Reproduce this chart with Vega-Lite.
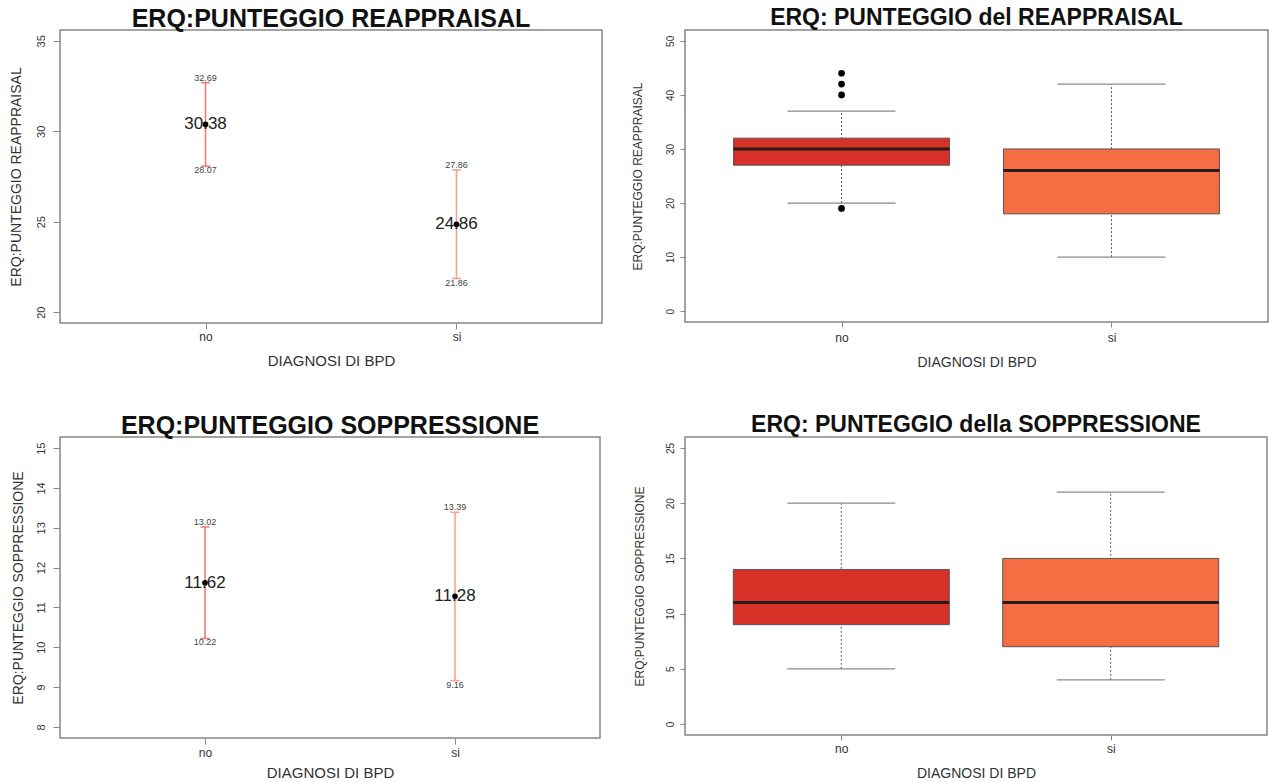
{
  "$schema": "https://vega.github.io/schema/vega-lite/v6.json",
  "background": "white",
  "padding": {"left": 8, "top": 6, "right": 0, "bottom": 0},
  "bounds": "flush",
  "columns": 2,
  "spacing": {"row": 114, "column": 83},
  "resolve": {"scale": {"color": "independent"}},
  "config": {
    "font": "Liberation Sans",
    "view": {"stroke": "#858585", "strokeWidth": 1.5},
    "axis": {"grid": false, "domain": false, "tickColor": "#888888", "labelColor": "#333333", "titleColor": "#333333", "titleFontWeight": "normal", "labelFont": "Liberation Sans", "titleFont": "Liberation Sans"},
    "title": {"fontWeight": "bold", "color": "#111111", "anchor": "middle", "baseline": "alphabetic", "font": "Liberation Sans"}
  },
  "concat": [
    {
      "width": 542, "height": 293,
      "title": {"text": "ERQ:PUNTEGGIO REAPPRAISAL", "fontSize": 25, "offset": -2},
      "data": {"values": [
        {"gruppo": "no", "media": 30.38, "inf": 28.07, "sup": 32.69},
        {"gruppo": "si", "media": 24.86, "inf": 21.86, "sup": 27.86}
      ]},
      "encoding": {
        "x": {"field": "gruppo", "type": "nominal", "title": "DIAGNOSI DI BPD",
          "scale": {"type": "point", "padding": 0.58},
          "axis": {"labelAngle": 0, "tickSize": 6, "labelPadding": 11, "labelBaseline": "alphabetic", "labelFontSize": 12, "titleFontSize": 15, "titleY": 42, "titleBaseline": "alphabetic"}}
      },
      "layer": [
        {"mark": {"type": "rule", "strokeWidth": 1.6},
          "encoding": {
            "y": {"field": "inf", "type": "quantitative", "title": "ERQ:PUNTEGGIO REAPPRAISAL",
              "scale": {"domain": [19.4, 35.6], "nice": false, "zero": false},
              "axis": {"values": [20, 25, 30, 35], "labelAngle": -90, "labelAlign": "center", "labelBaseline": "alphabetic", "tickSize": 7, "labelPadding": 9, "labelFontSize": 11, "titleFontSize": 14, "titleX": -40, "titleBaseline": "alphabetic"}},
            "y2": {"field": "sup"},
            "color": {"field": "gruppo", "type": "nominal", "scale": {"domain": ["no", "si"], "range": ["#EF7B7B", "#F7A38C"]}, "legend": null}}},
        {"mark": {"type": "tick", "size": 9, "thickness": 1.6, "opacity": 1},
          "encoding": {"y": {"field": "inf", "type": "quantitative", "title": "ERQ:PUNTEGGIO REAPPRAISAL"}, "color": {"field": "gruppo", "type": "nominal", "legend": null}}},
        {"mark": {"type": "tick", "size": 9, "thickness": 1.6, "opacity": 1},
          "encoding": {"y": {"field": "sup", "type": "quantitative", "title": "ERQ:PUNTEGGIO REAPPRAISAL"}, "color": {"field": "gruppo", "type": "nominal", "legend": null}}},
        {"mark": {"type": "text", "fontSize": 17, "color": "#222222"},
          "encoding": {"y": {"field": "media", "type": "quantitative", "title": "ERQ:PUNTEGGIO REAPPRAISAL"}, "text": {"field": "media", "type": "quantitative", "format": ".2f"}}},
        {"mark": {"type": "point", "filled": true, "color": "#000000", "size": 32, "opacity": 1},
          "encoding": {"y": {"field": "media", "type": "quantitative", "title": "ERQ:PUNTEGGIO REAPPRAISAL"}}},
        {"mark": {"type": "text", "fontSize": 9, "baseline": "bottom", "color": "#444444"},
          "encoding": {"y": {"field": "sup", "type": "quantitative", "title": "ERQ:PUNTEGGIO REAPPRAISAL"}, "text": {"field": "sup", "type": "quantitative", "format": ".2f"}}},
        {"mark": {"type": "text", "fontSize": 9, "baseline": "top", "color": "#444444"},
          "encoding": {"y": {"field": "inf", "type": "quantitative", "title": "ERQ:PUNTEGGIO REAPPRAISAL"}, "text": {"field": "inf", "type": "quantitative", "format": ".2f"}}}
      ]
    },
    {
      "width": 583, "height": 292,
      "title": {"text": "ERQ: PUNTEGGIO del REAPPRAISAL", "fontSize": 23, "offset": 0},
      "encoding": {
        "x": {"field": "gruppo", "type": "nominal", "title": "DIAGNOSI DI BPD",
          "scale": {"type": "point", "padding": 0.58, "domain": ["no", "si"]},
          "axis": {"labelAngle": 0, "tickSize": 5, "labelPadding": 14, "labelBaseline": "alphabetic", "labelFontSize": 12, "titleFontSize": 14, "titleY": 44, "titleBaseline": "alphabetic"}}
      },
      "layer": [
        {"data": {"name": "box_reappraisal", "values": [
          {"gruppo": "no", "inferiore": 20, "q1": 27, "mediana": 30, "q3": 32, "superiore": 37},
          {"gruppo": "si", "inferiore": 10, "q1": 18, "mediana": 26, "q3": 30, "superiore": 42}
        ]},
          "layer": [
            {"mark": {"type": "rule", "strokeDash": [2, 2], "strokeWidth": 1, "color": "#555555"},
              "encoding": {
                "y": {"field": "inferiore", "type": "quantitative", "title": "ERQ:PUNTEGGIO REAPPRAISAL",
                  "scale": {"domain": [-2, 52], "nice": false, "zero": false},
                  "axis": {"values": [0, 10, 20, 30, 40, 50], "labelAngle": -90, "labelAlign": "center", "labelBaseline": "alphabetic", "tickSize": 5, "labelPadding": 7, "labelFontSize": 10, "titleFontSize": 12, "titleX": -44, "titleBaseline": "alphabetic"}},
                "y2": {"field": "superiore"}}},
            {"mark": {"type": "tick", "size": 108, "thickness": 1.2, "color": "#8a8a8a", "opacity": 1},
              "encoding": {"y": {"field": "inferiore", "type": "quantitative", "title": "ERQ:PUNTEGGIO REAPPRAISAL"}}},
            {"mark": {"type": "tick", "size": 108, "thickness": 1.2, "color": "#8a8a8a", "opacity": 1},
              "encoding": {"y": {"field": "superiore", "type": "quantitative", "title": "ERQ:PUNTEGGIO REAPPRAISAL"}}},
            {"mark": {"type": "bar", "size": 216, "stroke": "#555555", "strokeWidth": 1, "opacity": 1},
              "encoding": {
                "y": {"field": "q1", "type": "quantitative", "title": "ERQ:PUNTEGGIO REAPPRAISAL"},
                "y2": {"field": "q3"},
                "color": {"field": "gruppo", "type": "nominal", "scale": {"domain": ["no", "si"], "range": ["#D73027", "#F46D43"]}, "legend": null}}},
            {"mark": {"type": "tick", "size": 216, "thickness": 3, "color": "#2a1a16", "opacity": 1},
              "encoding": {"y": {"field": "mediana", "type": "quantitative", "title": "ERQ:PUNTEGGIO REAPPRAISAL"}}}
          ]
        },
        {"data": {"name": "outlier_reappraisal", "values": [
          {"gruppo": "no", "valore": 19},
          {"gruppo": "no", "valore": 40},
          {"gruppo": "no", "valore": 42},
          {"gruppo": "no", "valore": 44}
        ]},
          "mark": {"type": "point", "filled": true, "color": "#000000", "size": 45, "opacity": 1},
          "encoding": {"y": {"field": "valore", "type": "quantitative", "title": "ERQ:PUNTEGGIO REAPPRAISAL"}}}
      ]
    },
    {
      "width": 540, "height": 301,
      "title": {"text": "ERQ:PUNTEGGIO SOPPRESSIONE", "fontSize": 25, "offset": -2},
      "data": {"values": [
        {"gruppo": "no", "media": 11.62, "inf": 10.22, "sup": 13.02},
        {"gruppo": "si", "media": 11.28, "inf": 9.16, "sup": 13.39}
      ]},
      "encoding": {
        "x": {"field": "gruppo", "type": "nominal", "title": "DIAGNOSI DI BPD",
          "scale": {"type": "point", "padding": 0.58},
          "axis": {"labelAngle": 0, "tickSize": 6, "labelPadding": 12, "labelBaseline": "alphabetic", "labelFontSize": 12, "titleFontSize": 15, "titleY": 39, "titleBaseline": "alphabetic"}}
      },
      "layer": [
        {"mark": {"type": "rule", "strokeWidth": 1.6},
          "encoding": {
            "y": {"field": "inf", "type": "quantitative", "title": "ERQ:PUNTEGGIO SOPPRESSIONE",
              "scale": {"domain": [7.72, 15.28], "nice": false, "zero": false},
              "axis": {"values": [8, 9, 10, 11, 12, 13, 14, 15], "labelAngle": -90, "labelAlign": "center", "labelBaseline": "alphabetic", "tickSize": 7, "labelPadding": 9, "labelFontSize": 11, "titleFontSize": 14, "titleX": -38, "titleBaseline": "alphabetic"}},
            "y2": {"field": "sup"},
            "color": {"field": "gruppo", "type": "nominal", "scale": {"domain": ["no", "si"], "range": ["#EF7B7B", "#F7A38C"]}, "legend": null}}},
        {"mark": {"type": "tick", "size": 9, "thickness": 1.6, "opacity": 1},
          "encoding": {"y": {"field": "inf", "type": "quantitative", "title": "ERQ:PUNTEGGIO SOPPRESSIONE"}, "color": {"field": "gruppo", "type": "nominal", "legend": null}}},
        {"mark": {"type": "tick", "size": 9, "thickness": 1.6, "opacity": 1},
          "encoding": {"y": {"field": "sup", "type": "quantitative", "title": "ERQ:PUNTEGGIO SOPPRESSIONE"}, "color": {"field": "gruppo", "type": "nominal", "legend": null}}},
        {"mark": {"type": "text", "fontSize": 17, "color": "#222222"},
          "encoding": {"y": {"field": "media", "type": "quantitative", "title": "ERQ:PUNTEGGIO SOPPRESSIONE"}, "text": {"field": "media", "type": "quantitative", "format": ".2f"}}},
        {"mark": {"type": "point", "filled": true, "color": "#000000", "size": 32, "opacity": 1},
          "encoding": {"y": {"field": "media", "type": "quantitative", "title": "ERQ:PUNTEGGIO SOPPRESSIONE"}}},
        {"mark": {"type": "text", "fontSize": 9, "baseline": "bottom", "color": "#444444"},
          "encoding": {"y": {"field": "sup", "type": "quantitative", "title": "ERQ:PUNTEGGIO SOPPRESSIONE"}, "text": {"field": "sup", "type": "quantitative", "format": ".2f"}}},
        {"mark": {"type": "text", "fontSize": 9, "baseline": "top", "color": "#444444"},
          "encoding": {"y": {"field": "inf", "type": "quantitative", "title": "ERQ:PUNTEGGIO SOPPRESSIONE"}, "text": {"field": "inf", "type": "quantitative", "format": ".2f"}}}
      ]
    },
    {
      "width": 582, "height": 298,
      "title": {"text": "ERQ: PUNTEGGIO della SOPPRESSIONE", "fontSize": 23, "offset": 0},
      "data": {"values": [
        {"gruppo": "no", "inferiore": 5, "q1": 9, "mediana": 11, "q3": 14, "superiore": 20},
        {"gruppo": "si", "inferiore": 4, "q1": 7, "mediana": 11, "q3": 15, "superiore": 21}
      ]},
      "encoding": {
        "x": {"field": "gruppo", "type": "nominal", "title": "DIAGNOSI DI BPD",
          "scale": {"type": "point", "padding": 0.58, "domain": ["no", "si"]},
          "axis": {"labelAngle": 0, "tickSize": 5, "labelPadding": 12, "labelBaseline": "alphabetic", "labelFontSize": 12, "titleFontSize": 14, "titleY": 42, "titleBaseline": "alphabetic"}}
      },
      "layer": [
        {"mark": {"type": "rule", "strokeDash": [2, 2], "strokeWidth": 1, "color": "#555555"},
          "encoding": {
            "y": {"field": "inferiore", "type": "quantitative", "title": "ERQ:PUNTEGGIO SOPPRESSIONE",
              "scale": {"domain": [-1, 26], "nice": false, "zero": false},
              "axis": {"values": [0, 5, 10, 15, 20, 25], "labelAngle": -90, "labelAlign": "center", "labelBaseline": "alphabetic", "tickSize": 5, "labelPadding": 7, "labelFontSize": 10, "titleFontSize": 12, "titleX": -42, "titleBaseline": "alphabetic"}},
            "y2": {"field": "superiore"}}},
        {"mark": {"type": "tick", "size": 108, "thickness": 1.2, "color": "#8a8a8a", "opacity": 1},
          "encoding": {"y": {"field": "inferiore", "type": "quantitative", "title": "ERQ:PUNTEGGIO SOPPRESSIONE"}}},
        {"mark": {"type": "tick", "size": 108, "thickness": 1.2, "color": "#8a8a8a", "opacity": 1},
          "encoding": {"y": {"field": "superiore", "type": "quantitative", "title": "ERQ:PUNTEGGIO SOPPRESSIONE"}}},
        {"mark": {"type": "bar", "size": 216, "stroke": "#555555", "strokeWidth": 1, "opacity": 1},
          "encoding": {
            "y": {"field": "q1", "type": "quantitative", "title": "ERQ:PUNTEGGIO SOPPRESSIONE"},
            "y2": {"field": "q3"},
            "color": {"field": "gruppo", "type": "nominal", "scale": {"domain": ["no", "si"], "range": ["#D73027", "#F46D43"]}, "legend": null}}},
        {"mark": {"type": "tick", "size": 216, "thickness": 3, "color": "#2a1a16", "opacity": 1},
          "encoding": {"y": {"field": "mediana", "type": "quantitative", "title": "ERQ:PUNTEGGIO SOPPRESSIONE"}}}
      ]
    }
  ]
}
